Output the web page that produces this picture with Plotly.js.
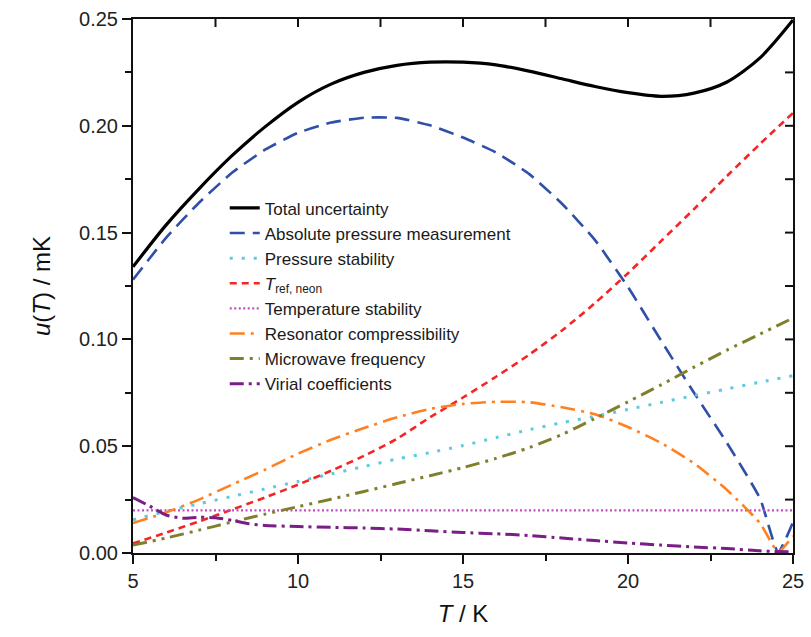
<!DOCTYPE html>
<html>
<head>
<meta charset="utf-8">
<script src="https://cdn.plot.ly/plotly-3.0.1.min.js"></script>
<style>html,body{margin:0;padding:0;background:#fff;}#chart{width:811px;height:637px;}</style>
</head>
<body>
<div id="chart"></div>
<script>
// Temperature grid (K)
const T = [5,6,7,8,9,10,11,12,13,14,15,16,17,18,19,20,21,22,23,24,25];
const totalU = [0.134,0.1535,0.1705,0.186,0.1995,0.211,0.2195,0.225,0.2283,0.2298,0.2298,0.2285,0.2256,0.222,0.2184,0.2155,0.2138,0.2153,0.2205,0.2318,0.2495];
const T_abs = [5,6,7,8,9,10,11,12,13,14,15,16,17,18,19,20,21,22,23,24,24.55,25];
const absPressure = [0.128,0.1475,0.164,0.178,0.1888,0.1967,0.2015,0.2038,0.2037,0.2002,0.1945,0.1875,0.1775,0.1635,0.1465,0.1245,0.0995,0.075,0.0515,0.0255,0.0005,0.0145];
const pressStab = [0.0155,0.0195,0.023,0.0265,0.030,0.0335,0.037,0.0405,0.044,0.047,0.0503,0.054,0.0577,0.061,0.064,0.0672,0.0705,0.0737,0.0768,0.080,0.083];
const trefNeon = [0.0045,0.0095,0.0148,0.0203,0.026,0.032,0.0385,0.0455,0.0535,0.0635,0.0728,0.0825,0.0928,0.1042,0.117,0.131,0.146,0.161,0.1765,0.1915,0.206];
const T_temp = [5,25];
const tempStab = [0.020,0.020];
const T_res = [5,6,7,8,9,10,11,12,13,14,15,16,17,18,19,20,21,22,23,24,24.55,25];
const resonator = [0.014,0.019,0.025,0.032,0.039,0.0465,0.053,0.0585,0.0635,0.0675,0.0698,0.0708,0.0706,0.0682,0.065,0.059,0.0515,0.042,0.0295,0.014,0.0005,0.008];
const microwave = [0.0037,0.007,0.0107,0.0145,0.0182,0.0217,0.0252,0.0288,0.0325,0.0362,0.040,0.0443,0.0493,0.0555,0.063,0.0708,0.0787,0.087,0.095,0.1025,0.110];
const T_vir = [5,5.5,6,6.5,7,7.5,8,8.5,9,10,11,12,13,14,15,16,17,18,19,20,21,22,23,24,25];
const virial = [0.026,0.022,0.0178,0.0163,0.0167,0.0165,0.0153,0.0137,0.0129,0.0124,0.012,0.0117,0.0112,0.0104,0.0096,0.009,0.0082,0.007,0.0058,0.0047,0.0037,0.0028,0.0021,0.001,0.0005];

// inward tick positions on the top and right frame (unlabeled)
const topTicks = [7.5,10,12.5,15,17.5,20,22.5];
const rightTicks = [0.025,0.05,0.075,0.1,0.125,0.15,0.175,0.2,0.225];

const names = ["Total uncertainty","Absolute pressure measurement","Pressure stability","<i>T</i><sub>ref, neon</sub>","Temperature stability","Resonator compressibility","Microwave frequency","Virial coefficients"];

const traces = [
  {x:T, y:totalU, name:names[0], line:{color:'#000000', width:3.2, shape:'spline', smoothing:0.8}},
  {x:T_abs, y:absPressure, name:names[1], line:{color:'#2f4fa8', width:2.6, dash:'15px,8px', shape:'spline', smoothing:0.5}},
  {x:T, y:pressStab, name:names[2], line:{color:'#5ccbe0', width:3, dash:'3px,9px', shape:'spline', smoothing:0.8}},
  {x:T, y:trefNeon, name:names[3], line:{color:'#f52525', width:2.6, dash:'7px,5px', shape:'spline', smoothing:0.8}},
  {x:T_temp, y:tempStab, name:names[4], line:{color:'#c64bc6', width:2.2, dash:'2px,2.5px'}},
  {x:T_res, y:resonator, name:names[5], line:{color:'#ff8020', width:2.6, dash:'15px,6px,3px,6px', shape:'spline', smoothing:0.5}},
  {x:T, y:microwave, name:names[6], line:{color:'#7f7f2c', width:3, dash:'14px,6px,3px,6px,3px,6px', shape:'spline', smoothing:0.8}},
  {x:T_vir, y:virial, name:names[7], line:{color:'#7a1d86', width:3, dash:'14px,5px,3px,5px', shape:'spline', smoothing:0.6}}
].map(t => Object.assign({type:'scatter', mode:'lines', hoverinfo:'skip'}, t));

const tickFont = {family:'Liberation Sans, Arial, sans-serif', size:20, color:'#222'};

const plotW = 811 - 133 - 18;
const plotH = 637 - 19 - 84;
const inTick = 8;
const frameTicks = topTicks.map(t => ({type:'line', layer:'above', xref:'x', yref:'paper', x0:t, x1:t, y0:1, y1:1 - inTick/plotH, line:{color:'#111111', width:2}}))
  .concat(rightTicks.map(v => ({type:'line', layer:'above', xref:'paper', yref:'y', x0:1, x1:1 - inTick/plotW, y0:v, y1:v, line:{color:'#111111', width:2}})));

const layout = {
  width:811, height:637,
  margin:{l:133, r:18, t:19, b:84},
  paper_bgcolor:'#fff', plot_bgcolor:'#fff',
  showlegend:true,
  legend:{x:0.139, xanchor:'left', y:0.679, yanchor:'top', bgcolor:'rgba(0,0,0,0)',
          font:{family:'Liberation Sans, Arial, sans-serif', size:17, color:'#1a1a1a'}, tracegroupgap:0},
  xaxis:{range:[5,25], dtick:5, tick0:5, ticks:'outside', ticklen:9, tickwidth:2, tickcolor:'#111',
         showline:true, mirror:true, linewidth:2, linecolor:'#111', showgrid:false, zeroline:false,
         minor:{dtick:2.5, tick0:5, ticks:'outside', ticklen:6, tickwidth:2, tickcolor:'#111', showgrid:false},
         tickfont:tickFont,
         title:{text:'<i>T</i> / K', font:{family:'Liberation Sans, Arial, sans-serif', size:24, color:'#111'}, standoff:14}},
  yaxis:{range:[0,0.25], dtick:0.05, tick0:0, tickformat:'.2f', ticks:'outside', ticklen:9, tickwidth:2, tickcolor:'#111',
         showline:true, mirror:true, linewidth:2, linecolor:'#111', showgrid:false, zeroline:false,
         minor:{dtick:0.025, tick0:0, ticks:'outside', ticklen:6, tickwidth:2, tickcolor:'#111', showgrid:false},
         tickfont:tickFont,
         title:{text:'<i>u</i>(<i>T</i>) / mK', font:{family:'Liberation Sans, Arial, sans-serif', size:24, color:'#111'}, standoff:22}},
  shapes: frameTicks
};

Plotly.newPlot('chart', traces, layout, {staticPlot:true, displayModeBar:false});
</script>
</body>
</html>
